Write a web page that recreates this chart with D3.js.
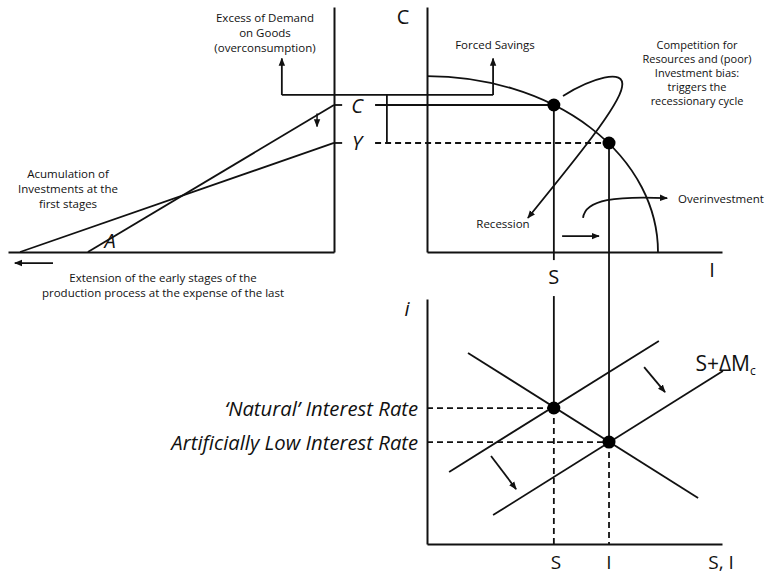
<!DOCTYPE html>
<html><head><meta charset="utf-8">
<script src="https://cdn.jsdelivr.net/npm/d3@7"></script>
<style>
body{margin:0;background:#fff}
text{font-family:'Open Sans','Noto Sans',sans-serif;fill:#111}
</style>
</head><body>
<svg id="chart" width="767" height="575"></svg>
<script>
// ---------------- DATA (diagram units 0..100 per panel) ----------------
// Top-left: Hayekian triangles (base = extension of stages, height = final output)
const stageKeys    = ["C", "Y"];
const stageBases   = [75.5, 96.3];
const stageHeights = [60.0, 44.5];
// Top-right: production possibilities frontier intercepts
const ppfMaxInvest  = 78.3;
const ppfMaxConsume = 71.8;
// Equilibria: S (natural) and I (artificial)
const eqKeys     = ["S", "I"];
const eqInvest   = [43.0, 61.7];
const eqConsume  = [60.0, 44.5];
const eqRate     = [55.5, 41.6];
const rateLabels = ["\u2018Natural\u2019 Interest Rate", "Artificially Low Interest Rate"];
// Bottom: loanable funds market lines [x0,y0,x1,y1]
const marketKeys  = ["I", "S", "S+\u0394M"];
const marketLines = [[13.9, 78.0, 91.9, 18.8], [7.5, 29.4, 78.6, 82.9], [22.4, 11.8, 100.3, 70.6]];
// Annotation texts
const excessText   = ["Excess of Demand", "on Goods", "(overconsumption)"];
const accumText    = ["Acumulation of", "Investments at the", "first stages"];
const extensionText= ["Extension of the early stages of the", "production process at the expense of the last"];
const competeText  = ["Competition for", "Resources and (poor)", "Investment bias:", "triggers the", "recessionary cycle"];

// ---------------- SCALES ----------------
const svg = d3.select("#chart");
const yTop = d3.scaleLinear().domain([0, 100]).range([252, 7]);
const xL   = d3.scaleLinear().domain([0, 100]).range([334, 8]);
const xR   = d3.scaleLinear().domain([0, 100]).range([427, 722]);
const xB   = d3.scaleLinear().domain([0, 100]).range([427, 722]);
const yB   = d3.scaleLinear().domain([0, 100]).range([544, 299]);

// arrow marker
const defs = svg.append("defs");
defs.append("marker").attr("id", "ah").attr("viewBox", "0 0 10 10")
  .attr("refX", 9).attr("refY", 5).attr("markerWidth", 8).attr("markerHeight", 8)
  .attr("markerUnits", "userSpaceOnUse").attr("orient", "auto")
  .append("path").attr("d", "M0,1 L10,5 L0,9 Z").attr("fill", "#111");

const line = (g, x1, y1, x2, y2, opts = {}) => {
  const l = g.append("line").attr("x1", x1).attr("y1", y1).attr("x2", x2).attr("y2", y2)
    .attr("stroke", "#111").attr("stroke-width", opts.w || 1.8);
  if (opts.dash) l.attr("stroke-dasharray", "6,4");
  if (opts.arrow) l.attr("marker-end", "url(#ah)");
  return l;
};
const axisStyle = g => g.select(".domain").attr("stroke", "#111").attr("stroke-width", 2);

// ---------------- AXES ----------------
svg.append("g").attr("transform", `translate(${xL(0)},0)`)
  .call(d3.axisLeft(yTop).tickValues([]).tickSizeOuter(0)).call(axisStyle);
svg.append("g").attr("transform", `translate(0,${yTop(0)})`)
  .call(d3.axisBottom(xL).tickValues([]).tickSizeOuter(0)).call(axisStyle);
svg.append("g").attr("transform", `translate(${xR(0)},0)`)
  .call(d3.axisLeft(yTop).tickValues([]).tickSizeOuter(0)).call(axisStyle);
svg.append("g").attr("transform", `translate(0,${yTop(0)})`)
  .call(d3.axisBottom(xR).tickValues([]).tickSizeOuter(0)).call(axisStyle);
svg.append("g").attr("transform", `translate(${xB(0)},0)`)
  .call(d3.axisLeft(yB).tickValues([]).tickSizeOuter(0)).call(axisStyle);
svg.append("g").attr("transform", `translate(0,${yB(0)})`)
  .call(d3.axisBottom(xB).tickValues([]).tickSizeOuter(0)).call(axisStyle);

const g = svg.append("g");

// ---------------- TOP-LEFT ----------------
stageKeys.forEach((k, i) => {
  line(g, xL(stageBases[i]), yTop(0), xL(0), yTop(stageHeights[i]));
  line(g, xL(0), yTop(stageHeights[i]), xL(-2.5), yTop(stageHeights[i]));
  g.append("text").attr("x", xR(-23.7)).attr("y", yTop(stageHeights[i]))
    .attr("text-anchor", "middle").attr("dominant-baseline", "central")
    .attr("font-size", 20).attr("font-style", "italic").text(k);
});
// small arrow on C line
line(g, xL(5.2), yTop(56.5), xL(5.2), yTop(51.2), {w: 1.5, arrow: true});
// left arrow
line(g, xL(86.2), yTop(-4.5), xL(97.9), yTop(-4.5), {arrow: true});
g.append("text").attr("x", xL(68.7)).attr("y", yTop(4.5)).attr("text-anchor", "middle")
  .attr("dominant-baseline", "central").attr("font-size", 20).attr("font-style", "italic").text("A");

// ---------------- CONNECTORS ----------------
const bracketY = 64.1;
line(g, xL(16), yTop(bracketY), xR(22.4), yTop(bracketY));
line(g, xL(16), yTop(bracketY), xL(16), yTop(79), {arrow: true});
line(g, xR(22.4), yTop(bracketY), xR(22.4), yTop(79), {arrow: true});
line(g, xR(-13.6), yTop(bracketY), xR(-13.6), yTop(eqConsume[1]));
line(g, xR(-17.6), yTop(eqConsume[0]), xR(eqInvest[0]), yTop(eqConsume[0]));
line(g, xR(-17.6), yTop(eqConsume[1]), xR(eqInvest[1]), yTop(eqConsume[1]), {dash: true});

// ---------------- TOP-RIGHT ----------------
const rx = xR(ppfMaxInvest) - xR(0), ry = yTop(0) - yTop(ppfMaxConsume);
g.append("path")
  .attr("d", `M${xR(0)},${yTop(ppfMaxConsume)} A${rx},${ry} 0 0 1 ${xR(ppfMaxInvest)},${yTop(0)}`)
  .attr("fill", "none").attr("stroke", "#111").attr("stroke-width", 1.8);

// loop (competition for resources -> recession)
const loopPts = [[46.1, 63.7], [55.3, 70.6], [67.5, 75.5], [66.1, 67.3], [65.1, 59.6], [50.2, 37.6], [34.2, 13.9]];
const P = p => `${xR(p[0])},${yTop(p[1])}`;
g.append("path")
  .attr("d", `M${P(loopPts[0])} C${P(loopPts[1])} ${P(loopPts[2])} ${P(loopPts[3])} C${P(loopPts[4])} ${P(loopPts[5])} ${P(loopPts[6])}`)
  .attr("fill", "none").attr("stroke", "#111").attr("stroke-width", 1.8).attr("marker-end", "url(#ah)");
// overinvestment curve
const overPts = [[52.9, 13.9], [53.6, 21.6], [64.4, 22.9], [81.4, 22.0]];
g.append("path")
  .attr("d", `M${P(overPts[0])} C${P(overPts[1])} ${P(overPts[2])} ${P(overPts[3])}`)
  .attr("fill", "none").attr("stroke", "#111").attr("stroke-width", 1.8).attr("marker-end", "url(#ah)");
line(g, xR(45.8), yTop(6.5), xR(58.3), yTop(6.5), {arrow: true});

// vertical S / I lines across panels
line(g, xR(eqInvest[0]), yTop(eqConsume[0]), xR(eqInvest[0]), yTop(-3.3));
line(g, xB(eqInvest[0]), yB(101.2), xB(eqInvest[0]), yB(eqRate[0]));
line(g, xR(eqInvest[1]), yTop(eqConsume[1]), xB(eqInvest[1]), yB(eqRate[1]));

// ---------------- BOTTOM ----------------
marketLines.forEach(d => line(g, xB(d[0]), yB(d[1]), xB(d[2]), yB(d[3])));
line(g, xB(73.6), yB(72.2), xB(80.7), yB(62.0), {arrow: true});
line(g, xB(21.7), yB(35.9), xB(30.2), yB(22.4), {arrow: true});
eqKeys.forEach((k, i) => {
  line(g, xB(0), yB(eqRate[i]), xB(eqInvest[i]), yB(eqRate[i]), {dash: true});
  line(g, xB(eqInvest[i]), yB(eqRate[i]), xB(eqInvest[i]), yB(0), {dash: true});
  g.append("text").attr("x", xB(-3)).attr("y", yB(eqRate[i])).attr("text-anchor", "end")
    .attr("dominant-baseline", "central").attr("font-size", 20.3).attr("font-style", "italic").text(rateLabels[i]);
});
// dots
eqKeys.forEach((k, i) => {
  g.append("circle").attr("cx", xR(eqInvest[i])).attr("cy", yTop(eqConsume[i])).attr("r", 6.5).attr("fill", "#000");
  g.append("circle").attr("cx", xB(eqInvest[i])).attr("cy", yB(eqRate[i])).attr("r", 6.5).attr("fill", "#000");
});

// ---------------- AXIS LETTERS ----------------
const big = (x, y, t, italic) => g.append("text").attr("x", x).attr("y", y).attr("text-anchor", "middle")
  .attr("dominant-baseline", "central").attr("font-size", 20).attr("font-style", italic ? "italic" : "normal").text(t);
big(xR(-8.1), yTop(96), "C");
big(xR(96.6), yTop(-7.3), "I");
big(xR(eqInvest[0]), yTop(-10.2), "S");
big(xB(-6.8), yB(96.3), "i", true);
const bottomLbl = (x, t) => g.append("text").attr("x", x).attr("y", yB(-10.4)).attr("text-anchor", "middle")
  .attr("font-size", 19).text(t);
bottomLbl(xB(eqInvest[0]) + 2, "S");
bottomLbl(xB(eqInvest[1]), "I");
bottomLbl(xB(99.7), "S, I");
const sl = g.append("text").attr("x", xB(91)).attr("y", yB(74)).attr("font-size", 21).attr("dominant-baseline", "central");
sl.append("tspan").text(marketKeys[2]);
sl.append("tspan").attr("font-size", 12).attr("dy", 7).text("c");

// ---------------- ANNOTATIONS ----------------
const block = (x, y0, lines, lh, fs) => lines.forEach((t, i) =>
  g.append("text").attr("x", x).attr("y", y0 + i * lh).attr("text-anchor", "middle")
    .attr("dominant-baseline", "central").attr("font-size", fs).text(t));
block(265, 17, excessText, 15.2, 11.5);
block(68, 173, accumText, 15, 11.5);
block(163, 277, extensionText, 15, 11.5);
block(697, 44, competeText, 14.2, 11);
block(495, 44, ["Forced Savings"], 14, 11.5);
block(503, 223, ["Recession"], 14, 11.5);
g.append("text").attr("x", 678).attr("y", 198).attr("dominant-baseline", "central").attr("font-size", 11.5).text("Overinvestment");
</script>
</body></html>
